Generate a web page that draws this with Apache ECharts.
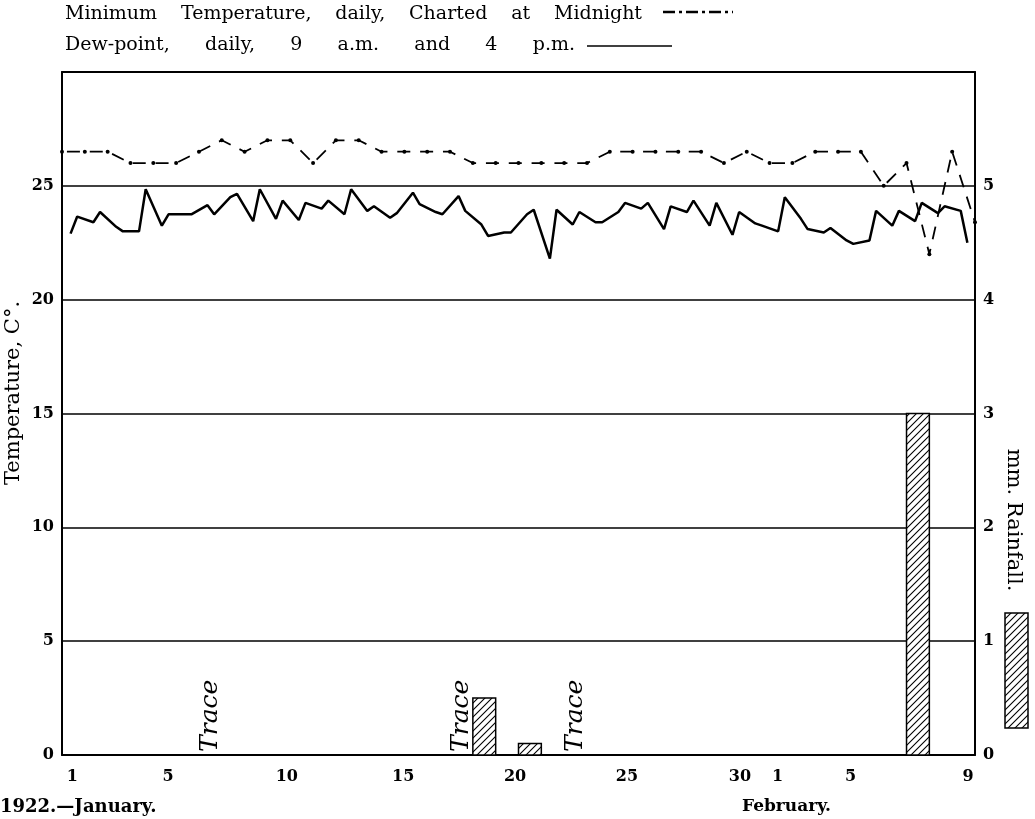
<!DOCTYPE html>
<html><head><meta charset="utf-8">
<script src="https://cdn.jsdelivr.net/npm/echarts@6/dist/echarts.min.js"></script>
<style>html,body{margin:0;padding:0;background:#fff}#c{width:1035px;height:819px}</style>
</head><body><div id="c"></div>
<script>
// Minimum temperature, charted at midnight (boundary k = start of day k+1), Jan 1 .. Feb 10 00h
const minTempMidnight = [26.5,26.5,26.5,26.0,26.0,26.0,26.5,27.0,26.5,27.0,27.0,26.0,27.0,27.0,26.5,26.5,26.5,26.5,26.0,26.0,26.0,26.0,26.0,26.0,26.5,26.5,26.5,26.5,26.5,26.0,26.5,26.0,26.0,26.5,26.5,26.5,25.0,26.0,22.0,26.5,23.4];
// Dew-point at 9 a.m. and 4 p.m., days 1..40 (Jan 1 .. Feb 9)
const dewPoint9am = [22.9,23.4,23.2,23.0,23.25,23.75,24.15,24.5,23.45,23.55,23.5,24.0,23.75,23.9,23.6,24.7,23.85,24.55,23.3,22.95,23.75,21.8,23.3,23.4,23.85,24.0,23.1,23.85,23.25,22.85,23.35,23.0,23.55,22.95,22.6,22.6,23.25,23.45,23.8,23.9];
const dewPoint4pm = [23.65,23.85,23.0,24.85,23.75,23.75,23.75,24.65,24.85,24.35,24.25,24.35,24.85,24.1,23.8,24.2,23.75,23.9,22.8,22.95,23.95,23.95,23.85,23.4,24.25,24.25,24.1,24.35,24.25,23.85,23.25,24.5,23.1,23.15,22.45,23.9,23.9,24.25,24.1,22.5];
// Rainfall (mm) by day number
const rainDays = [19,21,38];
const rainMm = [0.5,0.1,3.0];
// Days marked "Trace"
const traceDays = [7,18,23];
// X tick labels and their positions (day-axis units, as printed)
const xTickPos = [0.45,4.65,9.85,14.95,19.85,24.75,29.7,31.35,34.55,39.7];
const xTickLabels = ['1','5','10','15','20','25','30','1','5','9'];

const SERIF = '"DejaVu Serif", "Liberation Serif", serif';

function hatch(){
  const c = document.createElement('canvas');
  c.width = 7; c.height = 7;
  const g = c.getContext('2d');
  g.fillStyle = '#fff'; g.fillRect(0,0,7,7);
  g.strokeStyle = '#000'; g.lineWidth = 1.1;
  g.beginPath();
  g.moveTo(-1,8); g.lineTo(8,-1);
  g.moveTo(-1,1); g.lineTo(1,-1);
  g.moveTo(6,8); g.lineTo(8,6);
  g.stroke();
  return {image: c, repeat: 'repeat'};
}
const HATCH = hatch();

// lay words of a line out between x0 and x1 (the print uses wide word spacing)
function spreadWords(text, x0, x1, y, font){
  const ctx = document.createElement('canvas').getContext('2d');
  ctx.font = font;
  const words = text.split(' ');
  const widths = words.map(w=>ctx.measureText(w).width);
  const total = widths.reduce((a,b)=>a+b,0);
  const gap = (x1-x0-total)/(words.length-1);
  let x = x0;
  return words.map((w,i)=>{
    const el = {type:'text',x:x,y:y,style:{text:w,font:font,fill:'#000',verticalAlign:'middle',align:'left'}};
    x += widths[i]+gap;
    return el;
  });
}

const minData = minTempMidnight.map((v,k)=>[k,v]);
const dewData = [];
for (let d=1; d<=dewPoint9am.length; d++){
  dewData.push([d-1+9/24, dewPoint9am[d-1]]);
  dewData.push([d-1+16/24, dewPoint4pm[d-1]]);
}
const rainData = rainDays.map((d,i)=>[d-1,d,rainMm[i]]);
const traceData = traceDays.map(d=>[d-0.5,0]);
const tickMap = {};
xTickPos.forEach((p,i)=>{tickMap[p.toFixed(2)] = xTickLabels[i];});

const LEG_FONT = '19px '+SERIF;
const graphics = [].concat(
  spreadWords('Minimum Temperature, daily, Charted at Midnight', 65, 642, 14, LEG_FONT),
  spreadWords('Dew-point, daily, 9 a.m. and 4 p.m.', 65, 575, 45, LEG_FONT),
  [
    {type:'line',shape:{x1:663,y1:12,x2:733,y2:12},style:{stroke:'#000',lineWidth:2.5,lineDash:[12,4,3,4]}},
    {type:'line',shape:{x1:587,y1:46,x2:672,y2:46},style:{stroke:'#000',lineWidth:1.5}},
    {type:'text',x:14,y:393,rotation:Math.PI/2,style:{text:'Temperature, C°.',font:'21px '+SERIF,fill:'#000',align:'center',verticalAlign:'middle'}},
    {type:'text',x:1013,y:520,rotation:-Math.PI/2,style:{text:'mm. Rainfall.',font:'21px '+SERIF,fill:'#000',align:'center',verticalAlign:'middle'}},
    {type:'rect',shape:{x:1005,y:613,width:23,height:115},style:{fill:HATCH,stroke:'#000',lineWidth:1.5}},
    {type:'text',left:0,top:798,style:{text:'1922.—January.',font:'bold 18px '+SERIF,fill:'#000'}},
    {type:'text',left:742,top:798,style:{text:'February.',font:'bold 17px '+SERIF,fill:'#000'}}
  ]
);

const chart = echarts.init(document.getElementById('c'), null, {renderer:'canvas'});
chart.setOption({
  animation:false,
  backgroundColor:'#fff',
  grid:{left:62,right:60,top:72,bottom:64,outerBoundsMode:'none'},
  xAxis:[{
    type:'value',min:0,max:40,
    axisLine:{show:true,onZero:false,lineStyle:{color:'#000',width:2}},
    axisTick:{show:false},splitLine:{show:false},
    axisLabel:{customValues:xTickPos,formatter:(v)=>tickMap[Number(v).toFixed(2)]||'',
      color:'#000',fontFamily:SERIF,fontSize:16,fontWeight:'bold',margin:14,showMinLabel:true,showMaxLabel:true}
  },{
    type:'value',min:0,max:40,position:'top',
    axisLine:{show:true,onZero:false,lineStyle:{color:'#000',width:2}},
    axisTick:{show:false},splitLine:{show:false},axisLabel:{show:false}
  }],
  yAxis:[{
    type:'value',min:0,max:30,interval:5,position:'left',
    axisLine:{show:true,onZero:false,lineStyle:{color:'#000',width:2}},
    axisTick:{show:false},
    splitLine:{show:true,lineStyle:{color:'#000',width:1.5}},
    axisLabel:{formatter:(v)=>v===30?'':String(v),color:'#000',fontFamily:SERIF,fontSize:16,fontWeight:'bold',margin:8}
  },{
    type:'value',min:0,max:6,interval:1,position:'right',
    axisLine:{show:true,onZero:false,lineStyle:{color:'#000',width:2}},
    axisTick:{show:false},splitLine:{show:false},
    axisLabel:{formatter:(v)=>v===6?'':String(v),color:'#000',fontFamily:SERIF,fontSize:16,fontWeight:'bold',margin:8}
  }],
  series:[{
    name:'Dew-point',type:'line',data:dewData,symbol:'none',
    lineStyle:{color:'#000',width:2.5},z:3
  },{
    name:'Minimum Temperature',type:'line',data:minData,symbol:'circle',symbolSize:4,
    itemStyle:{color:'#000'},
    lineStyle:{color:'#000',width:1.8,type:[13,9.83],dashOffset:17.9},z:3
  },{
    name:'Rainfall',type:'custom',yAxisIndex:1,data:rainData,
    encode:{x:[0,1],y:2},
    renderItem:(params,api)=>{
      const p0 = api.coord([api.value(0),api.value(2)]);
      const p1 = api.coord([api.value(1),0]);
      return {type:'rect',shape:{x:p0[0],y:p0[1],width:p1[0]-p0[0],height:p1[1]-p0[1]},
        style:{fill:HATCH,stroke:'#000',lineWidth:1.5}};
    },z:2
  },{
    name:'Trace',type:'custom',data:traceData,encode:{x:0,y:1},
    renderItem:(params,api)=>{
      const p = api.coord([api.value(0),api.value(1)]);
      return {type:'text',x:p[0],y:p[1]-3,rotation:Math.PI/2,
        style:{text:'Trace',x:0,y:0,align:'left',verticalAlign:'middle',
          font:'italic 25px '+SERIF,fill:'#000'}};
    },z:4
  }],
  graphic:graphics
});
</script></body></html>
